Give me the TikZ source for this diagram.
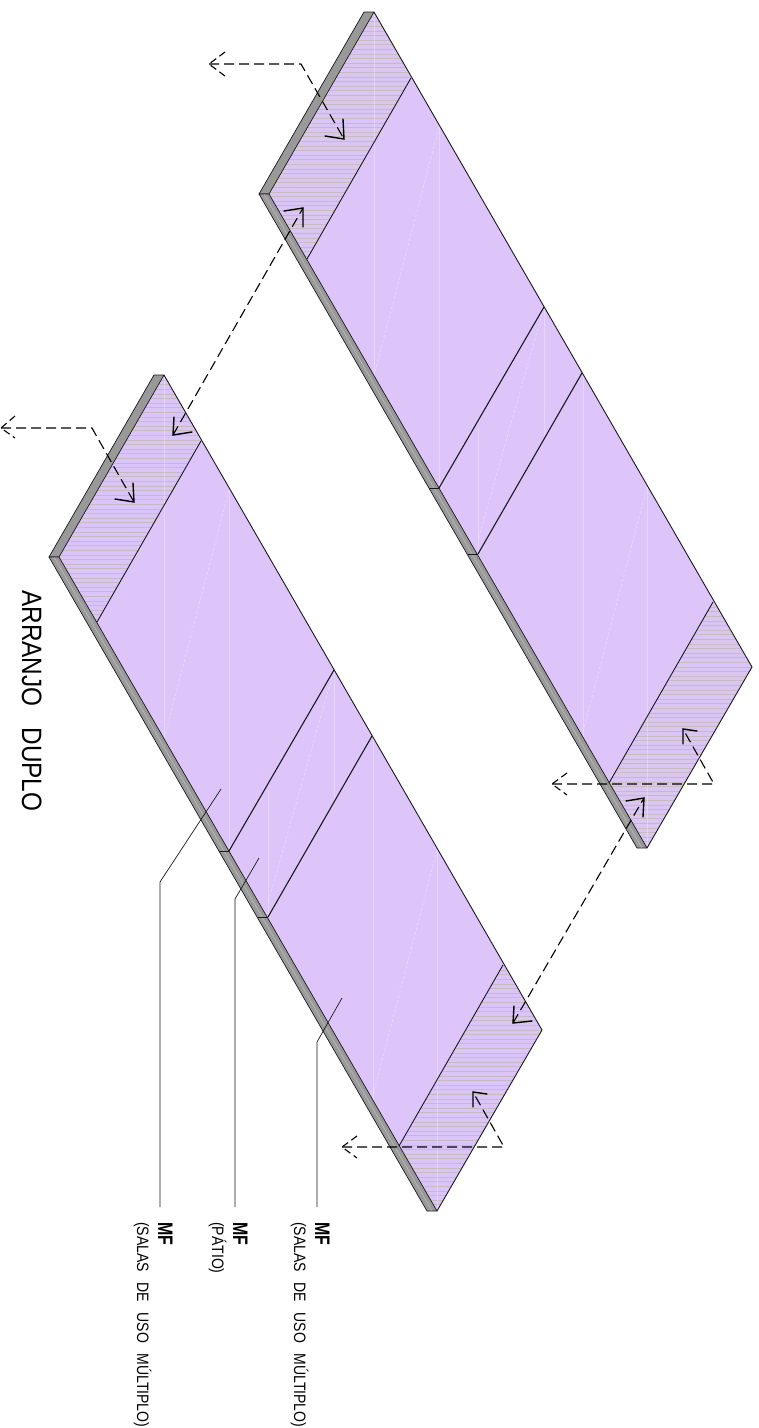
\documentclass[tikz,border=0pt]{standalone}
\usepackage{graphicx}
\usepackage{fontspec}
\setmainfont{Liberation Sans}
\definecolor{lilac}{RGB}{221,197,250}
\definecolor{hatchpale}{RGB}{216,197,242}
\definecolor{hatchline}{RGB}{196,188,192}
\definecolor{wallgray}{RGB}{153,153,153}
\definecolor{inkline}{RGB}{25,25,30}
\newcommand{\wgap}{\hspace{0.75em}}
\newcommand{\smalltxt}[1]{\scalebox{0.85}[1]{\fontsize{16.5pt}{18pt}\selectfont #1}}
\newcommand{\mftxt}{\scalebox{0.76}[1]{\fontsize{21pt}{22pt}\selectfont\bfseries MF}}
\tikzset{
  edgeline/.style={draw=inkline,line width=0.9pt},
  wall/.style={fill=wallgray,draw=inkline,line width=0.7pt,line join=round},
  faint/.style={draw=white,opacity=0.3,line width=0.7pt},
  faintdash/.style={draw=white,opacity=0.35,line width=0.7pt,dash pattern=on 3pt off 2pt},
  leader/.style={draw=inkline,line width=0.7pt},
  flow/.style={draw=black,line width=1.1pt,dash pattern=on 10pt off 5pt},
  barb/.style={draw=black,line width=1.4pt,line cap=round,line join=miter},
  dashbarb/.style={draw=black,line width=1.1pt,dash pattern=on 7pt off 4pt},
  lbl/.style={rotate=-90,anchor=base west,inner sep=0pt,text=black}
}
\begin{document}
\begin{tikzpicture}[x=1pt,y=-1pt]
\path[use as bounding box,fill=white] (0,0) rectangle (759,1428);
\foreach \sx/\sy in {0/0,210/-363}{
\begin{scope}[shift={(\sx,\sy)}]
  % slab body
  \fill[lilac] (164,375) -- (542,1030) -- (437,1211) -- (59,557) -- cycle;
  % hatched end bands
  \begin{scope}
    \clip (164,375) -- (201,441) -- (97,622) -- (59,557) -- cycle;
    \foreach \yy in {0.5,2.5,...,250}{\draw[hatchpale,line width=0.6pt] (50,375+\yy) -- (210,375+\yy);}
    \foreach \yy in {0.5,5.1,...,250}{\draw[hatchline,line width=0.7pt] (50,375+\yy) -- (210,375+\yy);}
  \end{scope}
  \begin{scope}
    \clip (503,965) -- (542,1030) -- (437,1211) -- (399,1146) -- cycle;
    \foreach \yy in {0.5,2.5,...,250}{\draw[hatchpale,line width=0.6pt] (390,965+\yy) -- (550,965+\yy);}
    \foreach \yy in {0.5,5.1,...,250}{\draw[hatchline,line width=0.7pt] (390,965+\yy) -- (550,965+\yy);}
  \end{scope}
  % faint construction lines
  \draw[faint] (164,375) -- (164,739);
  \draw[faint] (229,487) -- (229,851);
  \draw[faint] (334,670) -- (334,800);
  \draw[faint] (268,790) -- (268,917);
  \draw[faint] (373,736) -- (373,1100);
  \draw[faint] (437,847) -- (437,1211);
  \draw[faintdash] (229,490) -- (165,735);
  \draw[faintdash] (332,677) -- (268,903);
  \draw[faintdash] (437,850) -- (373,1095);
  % walls
  \draw[wall] (49,557) -- (154,375) -- (164,375) -- (59,557) -- cycle;
  \draw[wall] (49,557) -- (59,557) -- (437,1211) -- (427,1211) -- cycle;
  \draw[faint] (54,557) -- (432,1211);
  \draw[wall] (219,851) -- (229,851);
  \draw[wall] (258,917) -- (268,917);
  % outlines
  \draw[edgeline] (164,375) -- (542,1030) -- (437,1211);
  \draw[edgeline] (201,441) -- (97,622);
  \draw[edgeline,line width=1.1pt] (334,670) -- (229,851);
  \draw[edgeline,line width=1.1pt] (372,736) -- (268,917);
  \draw[edgeline] (503,965) -- (399,1146);
\end{scope}
}
% leaders
\coordinate (la) at (221,789); \coordinate (lb) at (160,882); \coordinate (lc) at (160,1207);
\coordinate (pa) at (259,858); \coordinate (pb) at (235,899); \coordinate (pc) at (235,1207);
\coordinate (qa) at (342,998); \coordinate (qb) at (317,1042); \coordinate (qc) at (317,1207);
\draw[leader] (la) -- (lb) -- (lc);
\draw[leader] (pa) -- (pb) -- (pc);
\draw[leader] (qa) -- (qb) -- (qc);
% flow arrows: left slab, top
\coordinate (a1) at (1,428); \coordinate (a2) at (92,428); \coordinate (a3) at (134,502);
\draw[flow] (a1) -- (a2) -- (a3);
\draw[dashbarb] (15,416) -- (a1) -- (15,438);
\draw[barb] (115,499) -- (a3) -- (133,483);
% flow arrows: right slab, top
\coordinate (b1) at (209,64); \coordinate (b2) at (301,64); \coordinate (b3) at (344,139);
\draw[flow] (b1) -- (b2) -- (b3);
\draw[dashbarb] (225,52) -- (b1) -- (225,76);
\draw[barb] (325,136) -- (b3) -- (343,119);
% double arrow, upper
\coordinate (c1) at (173,435); \coordinate (c2) at (303,208);
\draw[flow] (c1) -- (c2);
\draw[barb] (192,432) -- (c1) -- (174,417);
\draw[barb] (284,211) -- (c2) -- (303,227);
% double arrow, lower
\coordinate (d1) at (513,1023); \coordinate (d2) at (644,798);
\draw[flow] (d1) -- (d2);
\draw[barb] (532,1021) -- (d1) -- (514,1006);
\draw[barb] (626,801) -- (d2) -- (643,817);
% flow arrows: left slab, bottom
\coordinate (e1) at (342,1147); \coordinate (e2) at (504,1147); \coordinate (e3) at (473,1092);
\draw[flow] (e1) -- (e2) -- (e3);
\draw[dashbarb] (357,1136) -- (e1) -- (357,1158);
\draw[barb] (487,1094) -- (e3) -- (473,1107);
% flow arrows: right slab, bottom
\coordinate (f1) at (552,784); \coordinate (f2) at (714,784); \coordinate (f3) at (683,729);
\draw[flow] (f1) -- (f2) -- (f3);
\draw[dashbarb] (567,773) -- (f1) -- (567,795);
\draw[barb] (697,731) -- (f3) -- (683,744);
% labels
\node[lbl] (title) at (22,590) {\scalebox{0.87}[1]{\fontsize{28pt}{30pt}\selectfont ARRANJO\hspace{0.58em} DUPLO}};
\node[lbl] (m1) at (158,1222) {\mftxt};
\node[lbl] (s1) at (137,1222) {\smalltxt{(SALAS\wgap DE\wgap USO\wgap MÚLTIPLO)}};
\node[lbl] (m2) at (233,1222) {\mftxt};
\node[lbl] (s2) at (212,1222) {\smalltxt{(PÁTIO)}};
\node[lbl] (m3) at (315,1222) {\mftxt};
\node[lbl] (s3) at (294,1222) {\smalltxt{(SALAS\wgap DE\wgap USO\wgap MÚLTIPLO)}};
\end{tikzpicture}
\end{document}
